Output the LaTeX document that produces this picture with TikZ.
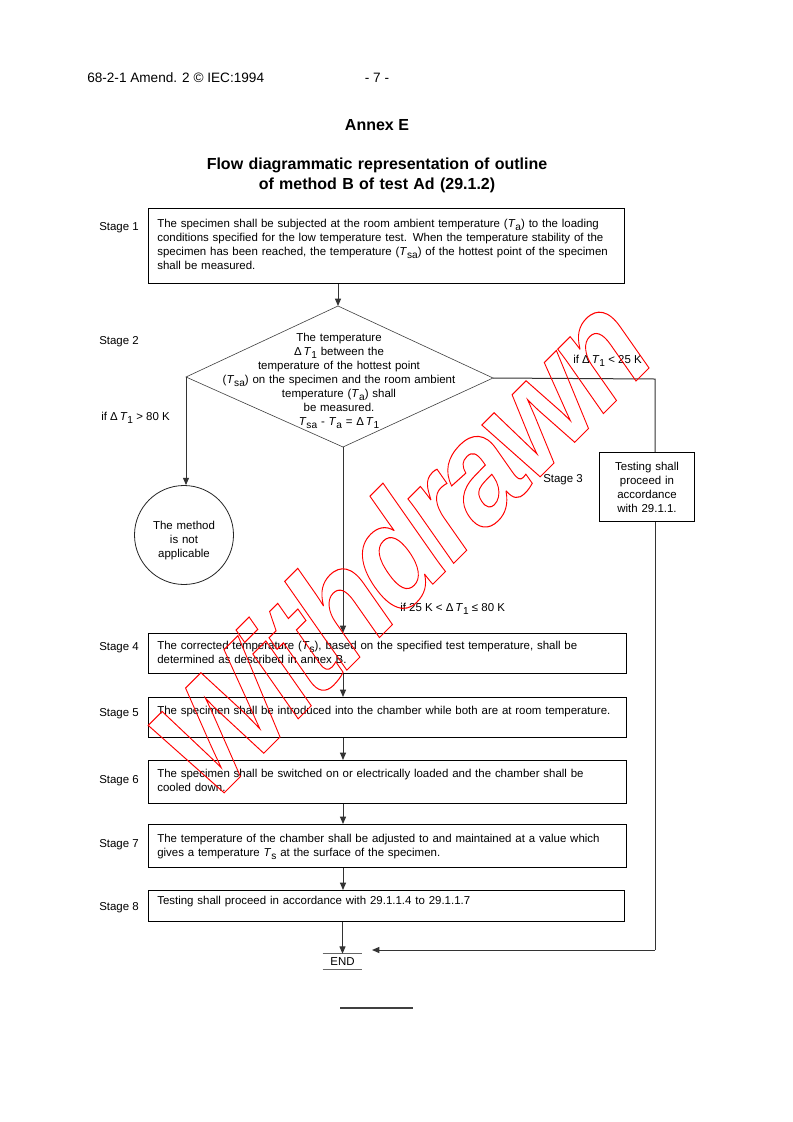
\documentclass[tikz,border=0pt]{standalone}
\usepackage{fontspec}
\setmainfont{Liberation Sans}
\newfontfamily\wmfont[LetterSpace=-5.0]{Liberation Sans}
\usetikzlibrary{arrows.meta}
\newcommand{\Ti}[1]{\textit{T}\raisebox{-0.5ex}{\fontsize{7.6}{8}\selectfont #1}}
\begin{document}
\begin{tikzpicture}[x=0.75pt,y=-0.75pt,
  every node/.style={inner sep=0pt, font=\fontsize{8.6}{10.5}\selectfont},
  stagebox/.style={draw, line width=0.75pt, anchor=north west},
  boxtext/.style={anchor=base west, text width=472*0.75pt, align=left},
  ctext/.style={anchor=base, text width=#1*0.75pt, align=center},
  stagelbl/.style={anchor=base west},
  conn/.style={draw=black!80, line width=0.75pt},
  arr/.style={conn, -{Triangle[length=5.5pt,width=4.5pt]}},
  dline/.style={draw=black!75, line width=0.45pt},
  endline/.style={draw=black!60, line width=1.1pt},
]
\useasboundingbox[fill=white] (0,0) rectangle (793,1122);

% header
\node[anchor=base west, font=\fontsize{10.2}{12}\selectfont] (hdr) at (87,82) {68-2-1 Amend. 2 © IEC:1994};
\node[anchor=base, font=\fontsize{10.2}{12}\selectfont] (pg) at (377,82) {- 7 -};
\node[anchor=base, font=\fontsize{12}{15}\selectfont\bfseries] (annex) at (377,130) {Annex E};
\node[ctext=500, font=\fontsize{12}{15}\selectfont\bfseries] (title) at (377,169) {Flow diagrammatic representation of outline\\of method B of test Ad (29.1.2)};

% stage 1
\node[stagebox, minimum width=476*0.75pt, minimum height=75*0.75pt] (b1) at (148,208) {};
\node[boxtext] (t1) at (157,227.5) {The specimen shall be subjected at the room ambient temperature (\Ti{a}) to the loading\\conditions specified for the low temperature test. When the temperature stability of the\\specimen has been reached, the temperature (\Ti{sa}) of the hottest point of the specimen\\shall be measured.};
\node[stagelbl] (s1) at (99,230) {Stage 1};

% diamond
\coordinate (dT) at (338,306);
\coordinate (dL) at (186,377);
\coordinate (dR) at (493,378);
\coordinate (dB) at (343,447);
\draw[dline] (dT) -- (dR) -- (dB) -- (dL) -- cycle;
\node[ctext=300] (dtext) at (339,341.5) {The temperature\\Δ\,\Ti{1} between the\\temperature of the hottest point\\(\Ti{sa}) on the specimen and the room ambient\\temperature (\Ti{a}) shall\\be measured.\\\Ti{sa} - \Ti{a} = Δ\,\Ti{1}};
\node[stagelbl] (s2) at (99,344) {Stage 2};
\draw[arr] (dT |- b1.south) -- (dT);

% left branch
\node[draw=black!85, line width=0.6pt, circle, minimum size=99*0.75pt] (circ) at (184,535) {};
\node[ctext=90] (ctext) at (184,529.5) {The method\\is not\\applicable};
\draw[arr] (dL) -- (dL |- circ.north);
\node[stagelbl] (l80) at (101,420) {if Δ\,\Ti{1} > 80 K};

% right branch
\coordinate (rc) at (655,379);
\node[stagebox, minimum width=95*0.75pt, minimum height=69*0.75pt] (tb) at (599,452) {};
\node[ctext=92] (tbt) at (647,470.5) {Testing shall\\proceed in\\accordance\\with 29.1.1.};
\node[stagelbl] (l25) at (573,363) {if Δ\,\Ti{1} < 25 K};
\node[stagelbl] (s3) at (543,482) {Stage 3};
\draw[conn] (dR) -- (rc) -- (rc |- tb.north);

% middle branch
\node[stagebox, minimum width=478*0.75pt, minimum height=40*0.75pt] (b4) at (148,633) {};
\node[boxtext] (t4) at (157,649.5) {The corrected temperature (\Ti{s}), based on the specified test temperature, shall be\\determined as described in annex B.};
\node[stagelbl] (s4) at (99,650) {Stage 4};
\node[stagelbl] (lmid) at (400,611) {if 25 K < Δ\,\Ti{1} ≤ 80 K};
\draw[arr] (dB) -- (dB |- b4.north);

\node[stagebox, minimum width=478*0.75pt, minimum height=40*0.75pt] (b5) at (148,697) {};
\node[boxtext] (t5) at (157,714.5) {The specimen shall be introduced into the chamber while both are at room temperature.};
\node[stagelbl] (s5) at (99,716) {Stage 5};
\draw[arr] (dB |- b4.south) -- (dB |- b5.north);

\node[stagebox, minimum width=478*0.75pt, minimum height=43*0.75pt] (b6) at (148,760) {};
\node[boxtext] (t6) at (157,777.5) {The specimen shall be switched on or electrically loaded and the chamber shall be\\cooled down.};
\node[stagelbl] (s6) at (99,783) {Stage 6};
\draw[arr] (dB |- b5.south) -- (dB |- b6.north);

\node[stagebox, minimum width=478*0.75pt, minimum height=43*0.75pt] (b7) at (148,824) {};
\node[boxtext] (t7) at (157,842.5) {The temperature of the chamber shall be adjusted to and maintained at a value which\\gives a temperature \Ti{s} at the surface of the specimen.};
\node[stagelbl] (s7) at (99,847) {Stage 7};
\draw[arr] (dB |- b6.south) -- (dB |- b7.north);

\node[stagebox, minimum width=476*0.75pt, minimum height=31*0.75pt] (b8) at (148,890) {};
\node[boxtext] (t8) at (157,904.5) {Testing shall proceed in accordance with 29.1.1.4 to 29.1.1.7};
\node[stagelbl] (s8) at (99,910) {Stage 8};
\draw[arr] (dB |- b7.south) -- (dB |- b8.north);

% END
\node[minimum width=39*0.75pt, minimum height=15*0.75pt] (end) at (342.5,961.5) {END};
\draw[endline] (end.north west) -- (end.north east);
\draw[endline] (end.south west) -- (end.south east);
\draw[arr] (end.north |- b8.south) -- (end.north);
\coordinate (endR) at (372,950);
\draw[conn] (rc |- tb.south) -- (rc |- endR);
\draw[arr] (rc |- endR) -- (endR);

% closing rule
\coordinate (r1) at (340,1008);
\coordinate (r2) at (413,1008);
\draw[draw=black!75, line width=1.1pt] (r1) -- (r2);

% watermark (outlined, slightly sheared)
\begin{scope}[shift={(207,810)}, cm={0.707,0.707,-0.637,0.910,(0,0)}]
\node[transform shape, anchor=base west, text=red, font=\wmfont\fontsize{101}{101}\selectfont\bfseries] (wm) at (0,0) {\special{pdf:literal direct 1 Tr 0.7 w}Withdrawn\special{pdf:literal direct 0 Tr}};
\end{scope}
\end{tikzpicture}
\end{document}
